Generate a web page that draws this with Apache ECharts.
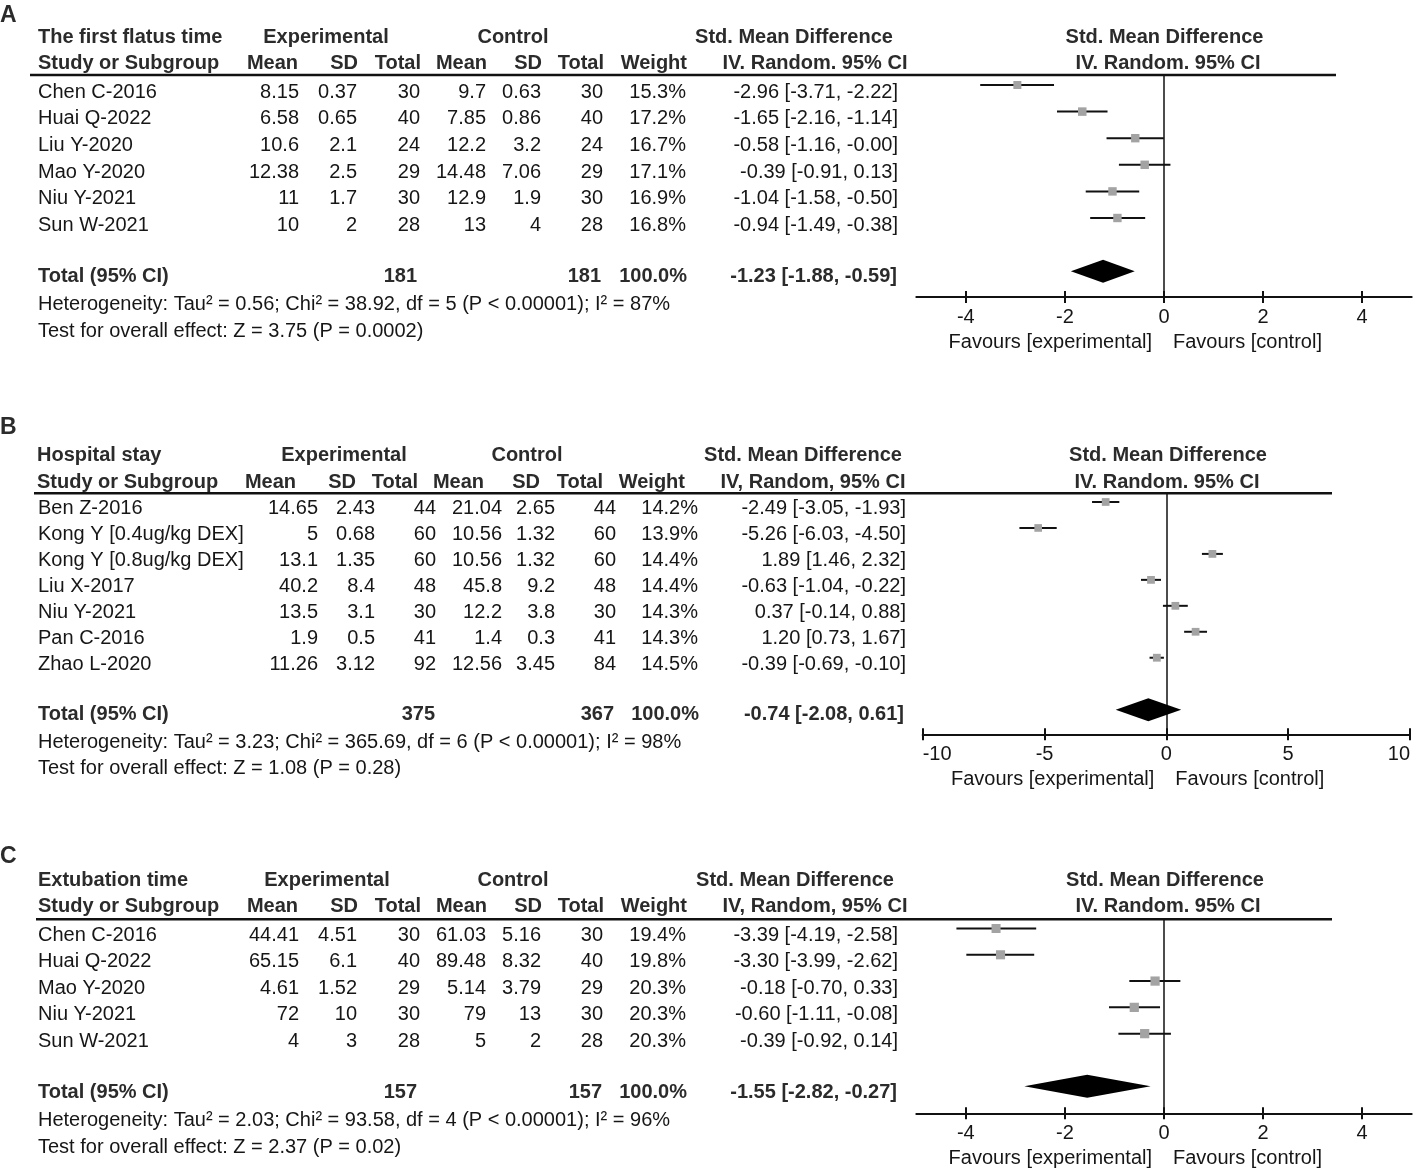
<!DOCTYPE html>
<html><head><meta charset="utf-8">
<script src="https://cdn.jsdelivr.net/npm/echarts@6/dist/echarts.min.js"></script>
<style>html,body{margin:0;padding:0;background:#fff}#c{width:1413px;height:1168px}</style>
</head><body><div id="c"></div>
<script>
// ---------- Panel A : The first flatus time ----------
const titleA = 'The first flatus time';
const studiesA = ['Chen C-2016','Huai Q-2022','Liu Y-2020','Mao Y-2020','Niu Y-2021','Sun W-2021'];
const expMeanA = [8.15, 6.58, 10.6, 12.38, 11, 10];
const expSdA   = [0.37, 0.65, 2.1, 2.5, 1.7, 2];
const expNA    = [30, 40, 24, 29, 30, 28];
const ctlMeanA = [9.7, 7.85, 12.2, 14.48, 12.9, 13];
const ctlSdA   = [0.63, 0.86, 3.2, 7.06, 1.9, 4];
const ctlNA    = [30, 40, 24, 29, 30, 28];
const weightA  = [15.3, 17.2, 16.7, 17.1, 16.9, 16.8];
const smdA     = [-2.96, -1.65, -0.58, -0.39, -1.04, -0.94];
const loA      = [-3.71, -2.16, -1.16, -0.91, -1.58, -1.49];
const hiA      = [-2.22, -1.14, -0.004, 0.13, -0.50, -0.38];
const totalNA  = [181, 181];
const totalEffA = [-1.23, -1.88, -0.59];
const hetA  = 'Heterogeneity: Tau² = 0.56; Chi² = 38.92, df = 5 (P < 0.00001); I² = 87%';
const testA = 'Test for overall effect: Z = 3.75 (P = 0.0002)';
const ticksA = [-4, -2, 0, 2, 4];

// ---------- Panel B : Hospital stay ----------
const titleB = 'Hospital stay';
const studiesB = ['Ben Z-2016','Kong Y [0.4ug/kg DEX]','Kong Y [0.8ug/kg DEX]','Liu X-2017','Niu Y-2021','Pan C-2016','Zhao L-2020'];
const expMeanB = [14.65, 5, 13.1, 40.2, 13.5, 1.9, 11.26];
const expSdB   = [2.43, 0.68, 1.35, 8.4, 3.1, 0.5, 3.12];
const expNB    = [44, 60, 60, 48, 30, 41, 92];
const ctlMeanB = [21.04, 10.56, 10.56, 45.8, 12.2, 1.4, 12.56];
const ctlSdB   = [2.65, 1.32, 1.32, 9.2, 3.8, 0.3, 3.45];
const ctlNB    = [44, 60, 60, 48, 30, 41, 84];
const weightB  = [14.2, 13.9, 14.4, 14.4, 14.3, 14.3, 14.5];
const smdB     = [-2.49, -5.26, 1.89, -0.63, 0.37, 1.20, -0.39];
const loB      = [-3.05, -6.03, 1.46, -1.04, -0.14, 0.73, -0.69];
const hiB      = [-1.93, -4.50, 2.32, -0.22, 0.88, 1.67, -0.10];
const totalNB  = [375, 367];
const totalEffB = [-0.74, -2.08, 0.61];
const hetB  = 'Heterogeneity: Tau² = 3.23; Chi² = 365.69, df = 6 (P < 0.00001); I² = 98%';
const testB = 'Test for overall effect: Z = 1.08 (P = 0.28)';
const ticksB = [-10, -5, 0, 5, 10];

// ---------- Panel C : Extubation time ----------
const titleC = 'Extubation time';
const studiesC = ['Chen C-2016','Huai Q-2022','Mao Y-2020','Niu Y-2021','Sun W-2021'];
const expMeanC = [44.41, 65.15, 4.61, 72, 4];
const expSdC   = [4.51, 6.1, 1.52, 10, 3];
const expNC    = [30, 40, 29, 30, 28];
const ctlMeanC = [61.03, 89.48, 5.14, 79, 5];
const ctlSdC   = [5.16, 8.32, 3.79, 13, 2];
const ctlNC    = [30, 40, 29, 30, 28];
const weightC  = [19.4, 19.8, 20.3, 20.3, 20.3];
const smdC     = [-3.39, -3.30, -0.18, -0.60, -0.39];
const loC      = [-4.19, -3.99, -0.70, -1.11, -0.92];
const hiC      = [-2.58, -2.62, 0.33, -0.08, 0.14];
const totalNC  = [157, 157];
const totalEffC = [-1.55, -2.82, -0.27];
const hetC  = 'Heterogeneity: Tau² = 2.03; Chi² = 93.58, df = 4 (P < 0.00001); I² = 96%';
const testC = 'Test for overall effect: Z = 2.37 (P = 0.02)';
const ticksC = [-4, -2, 0, 2, 4];

// ---------- layout (positions only) ----------
const FONT = '"Liberation Sans", Arial, Helvetica, sans-serif';
const panels = [
  { letter:'A', letterY:16, title:titleA, ciHead:'IV. Random. 95% CI',
    studies:studiesA, em:expMeanA, es:expSdA, en:expNA, cm:ctlMeanA, cs:ctlSdA, cn:ctlNA, w:weightA,
    smd:smdA, lo:loA, hi:hiA, tn:totalNA, te:totalEffA, het:hetA, test:testA, ticks:ticksA, xr:[-5,5],
    h1:37, h2:63.3, rule:75, row0:92.3, step:26.6, total:276, hetY:304.5, testY:331,
    ruleX:[30,1336],
    h1x:{title:38, exp:326, ctl:513, smd:794, f1:1164.5},
    h2x:{study:38, m:298, s:358, t:421, cm:487, cs:542, ct:604, w:687, ci:815, f2:1168},
    dx:{m:299, s:357, t:420, cm:486, cs:541, ct:603, w:686, ci:898},
    tx:{t:417, ct:601, w:687, ci:897},
    grid:{left:916.3, top:75, width:495.4, height:222}, y:[-0.376, 7.97], totIdx:7,
    fav:[342] },
  { letter:'B', letterY:428, title:titleB, ciHead:'IV, Random, 95% CI',
    studies:studiesB, em:expMeanB, es:expSdB, en:expNB, cm:ctlMeanB, cs:ctlSdB, cn:ctlNB, w:weightB,
    smd:smdB, lo:loB, hi:hiB, tn:totalNB, te:totalEffB, het:hetB, test:testB, ticks:ticksB, xr:[-10,10],
    h1:455, h2:482.7, rule:493.3, row0:508.3, step:25.95, total:714.3, hetY:742.7, testY:768.3,
    ruleX:[34,1332],
    h1x:{title:37, exp:344, ctl:527, smd:803, f1:1168},
    h2x:{study:37, m:296, s:356, t:418, cm:484, cs:540, ct:603, w:685, ci:813, f2:1167},
    dx:{m:318, s:375, t:436, cm:502, cs:555, ct:616, w:698, ci:906},
    tx:{t:435, ct:614, w:699, ci:904},
    grid:{left:922.7, top:493.3, width:489.6, height:241}, y:[-0.335, 8.95], totIdx:8,
    fav:[779] },
  { letter:'C', letterY:857, title:titleC, ciHead:'IV, Random, 95% CI',
    studies:studiesC, em:expMeanC, es:expSdC, en:expNC, cm:ctlMeanC, cs:ctlSdC, cn:ctlNC, w:weightC,
    smd:smdC, lo:loC, hi:hiC, tn:totalNC, te:totalEffC, het:hetC, test:testC, ticks:ticksC, xr:[-5,5],
    h1:880.7, h2:906.7, rule:919.3, row0:935, step:26.6, total:1092.3, hetY:1120, testY:1147,
    ruleX:[36,1332],
    h1x:{title:38, exp:327, ctl:513, smd:795, f1:1165},
    h2x:{study:38, m:298, s:358, t:421, cm:487, cs:542, ct:604, w:687, ci:815, f2:1168},
    dx:{m:299, s:357, t:420, cm:486, cs:541, ct:603, w:686, ci:898},
    tx:{t:417, ct:602, w:687, ci:897},
    grid:{left:916.3, top:919.3, width:495.4, height:194}, y:[-0.35, 7.03], totIdx:6,
    fav:[1158] }
];

function txt(x, y, s, align, bold, size) {
  return { type:'text', x:x, y:y, silent:true, z:10,
    style:{ text:s, x:0, y:0, align:align, verticalAlign:'middle', textAlign:align, textVerticalAlign:'middle',
      font:(bold ? 'bold ' : '') + (size || 20) + 'px ' + FONT, fill: bold ? '#2b2b2b' : '#161616' } };
}
const f2 = v => v.toFixed(2);
const ciStr = (e, l, h) => f2(e) + ' [' + f2(l) + ', ' + f2(h) + ']';

const chart = echarts.init(document.getElementById('c'), null, { renderer:'canvas' });
const grids = [], xAxes = [], yAxes = [], series = [], graphics = [];

panels.forEach((p, k) => {
  // --- table text ---
  graphics.push(txt(0, p.letterY, p.letter, 'left', true, 23));
  graphics.push(txt(p.h1x.title, p.h1, p.title, 'left', true));
  graphics.push(txt(p.h1x.exp, p.h1, 'Experimental', 'center', true));
  graphics.push(txt(p.h1x.ctl, p.h1, 'Control', 'center', true));
  graphics.push(txt(p.h1x.smd, p.h1, 'Std. Mean Difference', 'center', true));
  graphics.push(txt(p.h1x.f1, p.h1, 'Std. Mean Difference', 'center', true));
  graphics.push(txt(p.h2x.study, p.h2, 'Study or Subgroup', 'left', true));
  graphics.push(txt(p.h2x.m, p.h2, 'Mean', 'right', true));
  graphics.push(txt(p.h2x.s, p.h2, 'SD', 'right', true));
  graphics.push(txt(p.h2x.t, p.h2, 'Total', 'right', true));
  graphics.push(txt(p.h2x.cm, p.h2, 'Mean', 'right', true));
  graphics.push(txt(p.h2x.cs, p.h2, 'SD', 'right', true));
  graphics.push(txt(p.h2x.ct, p.h2, 'Total', 'right', true));
  graphics.push(txt(p.h2x.w, p.h2, 'Weight', 'right', true));
  graphics.push(txt(p.h2x.ci, p.h2, p.ciHead, 'center', true));
  graphics.push(txt(p.h2x.f2, p.h2, 'IV. Random. 95% CI', 'center', true));
  graphics.push({ type:'line', silent:true, z:10,
    shape:{ x1:p.ruleX[0], y1:p.rule, x2:p.ruleX[1], y2:p.rule },
    style:{ stroke:'#111', lineWidth:2.6 } });
  p.studies.forEach((s, i) => {
    const y = p.row0 + p.step * i;
    graphics.push(txt(38, y, s, 'left', false));
    graphics.push(txt(p.dx.m, y, String(p.em[i]), 'right', false));
    graphics.push(txt(p.dx.s, y, String(p.es[i]), 'right', false));
    graphics.push(txt(p.dx.t, y, String(p.en[i]), 'right', false));
    graphics.push(txt(p.dx.cm, y, String(p.cm[i]), 'right', false));
    graphics.push(txt(p.dx.cs, y, String(p.cs[i]), 'right', false));
    graphics.push(txt(p.dx.ct, y, String(p.cn[i]), 'right', false));
    graphics.push(txt(p.dx.w, y, p.w[i].toFixed(1) + '%', 'right', false));
    graphics.push(txt(p.dx.ci, y, ciStr(p.smd[i], p.lo[i], p.hi[i]), 'right', false));
  });
  graphics.push(txt(38, p.total, 'Total (95% CI)', 'left', true));
  graphics.push(txt(p.tx.t, p.total, String(p.tn[0]), 'right', true));
  graphics.push(txt(p.tx.ct, p.total, String(p.tn[1]), 'right', true));
  graphics.push(txt(p.tx.w, p.total, '100.0%', 'right', true));
  graphics.push(txt(p.tx.ci, p.total, ciStr(p.te[0], p.te[1], p.te[2]), 'right', true));
  graphics.push(txt(38, p.hetY, p.het, 'left', false));
  graphics.push(txt(38, p.testY, p.test, 'left', false));

  // --- forest plot ---
  grids.push(Object.assign({ containLabel:false }, p.grid));
  const axisCommon = { type:'value', gridIndex:k, min:p.xr[0], max:p.xr[1], splitLine:{show:false} };
  xAxes.push(Object.assign({}, axisCommon, {
    position:'bottom',
    axisLine:{ show:true, onZero:false, lineStyle:{ color:'#111', width:2 } },
    axisTick:{ show:true, inside:false, length:6, customValues:p.ticks, lineStyle:{ color:'#111', width:2 } },
    axisLabel:{ show:true, customValues:p.ticks, margin:10, fontSize:20, fontFamily:FONT, color:'#161616',
      alignMinLabel: p.ticks[0] === p.xr[0] ? 'left' : null,
      alignMaxLabel: p.ticks[p.ticks.length-1] === p.xr[1] ? 'right' : null }
  }));
  xAxes.push(Object.assign({}, axisCommon, {
    position:'bottom',
    axisLine:{ show:false, onZero:false },
    axisTick:{ show:true, inside:true, length:6, customValues:p.ticks, lineStyle:{ color:'#111', width:2 } },
    axisLabel:{ show:false }
  }));
  yAxes.push({ type:'value', gridIndex:k, inverse:true, min:p.y[0], max:p.y[1], show:false,
    splitLine:{show:false} });

  const rows = p.smd.map((v, i) => [i, v, p.lo[i], p.hi[i], p.w[i]]);
  series.push({
    type:'custom', xAxisIndex:2*k, yAxisIndex:k, encode:{ x:[1,2,3], y:0 },
    data: rows, silent:true, z:5,
    renderItem(params, api) {
      const i = api.value(0);
      const c = api.coord([api.value(1), i]);
      const a = api.coord([api.value(2), i]);
      const b = api.coord([api.value(3), i]);
      const s = Math.sqrt(api.value(4)) * 2.05;
      return { type:'group', children:[
        { type:'line', shape:{ x1:a[0], y1:a[1], x2:b[0], y2:b[1] }, style:{ stroke:'#111', lineWidth:2 } },
        { type:'rect', shape:{ x:c[0]-s/2, y:c[1]-s/2, width:s, height:s }, style:{ fill:'#a3a3a3' } }
      ]};
    },
    markLine:{ silent:true, symbol:['none','none'], label:{show:false},
      lineStyle:{ color:'#111', width:1.5, type:'solid' }, data:[{ xAxis:0 }] }
  });
  series.push({
    type:'custom', xAxisIndex:2*k, yAxisIndex:k, encode:{ x:[1,2,3], y:0 },
    data: [[p.totIdx, p.te[0], p.te[1], p.te[2]]], silent:true, z:6,
    renderItem(params, api) {
      const i = api.value(0);
      const c = api.coord([api.value(1), i]);
      const a = api.coord([api.value(2), i]);
      const b = api.coord([api.value(3), i]);
      const h = 11.5;
      return { type:'polygon', shape:{ points:[[a[0], a[1]], [c[0], c[1]-h], [b[0], b[1]], [c[0], c[1]+h]] },
        style:{ fill:'#000' } };
    }
  });
});

chart.setOption({
  animation:false,
  backgroundColor:'#fff',
  grid:grids, xAxis:xAxes, yAxis:yAxes, series:series, graphic:graphics
});

// "Favours" labels placed around the zero point of each forest axis
const favGraphics = [];
panels.forEach((p, k) => {
  const x0 = chart.convertToPixel({ xAxisIndex:2*k }, 0);
  favGraphics.push(txt(x0 - 12, p.fav[0], 'Favours [experimental]', 'right', false));
  favGraphics.push(txt(x0 + 9, p.fav[0], 'Favours [control]', 'left', false));
});
chart.setOption({ graphic: graphics.concat(favGraphics) });
</script></body></html>
